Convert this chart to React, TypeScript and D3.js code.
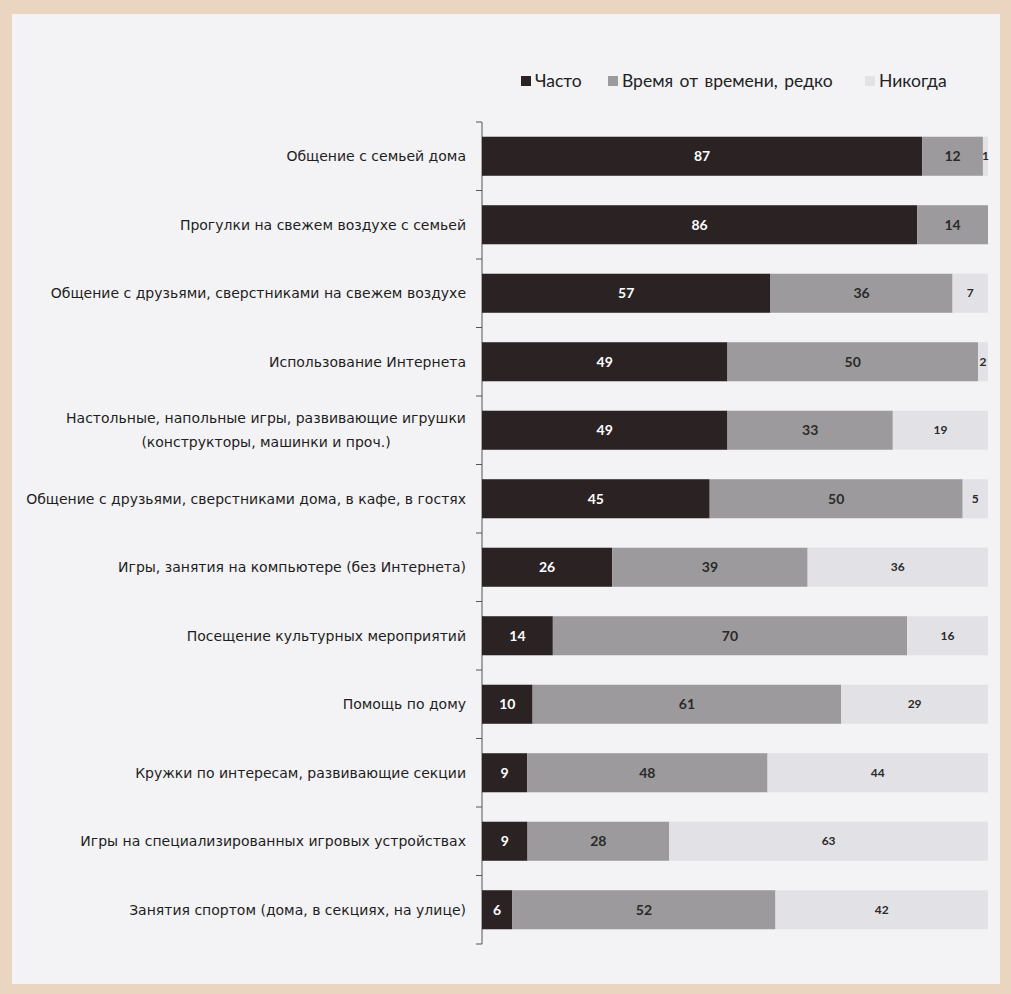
import React from "react";
import * as d3 from "d3";

const categories: string[][] = [
  ["Общение с семьей дома"],
  ["Прогулки на свежем воздухе с семьей"],
  ["Общение с друзьями, сверстниками  на свежем воздухе"],
  ["Использование Интернета"],
  ["Настольные, напольные игры, развивающие игрушки", "(конструкторы, машинки и проч.)"],
  ["Общение с друзьями, сверстниками дома, в кафе, в гостях"],
  ["Игры, занятия на компьютере (без Интернета)"],
  ["Посещение культурных мероприятий"],
  ["Помощь по дому"],
  ["Кружки по интересам,  развивающие секции"],
  ["Игры на специализированных игровых устройствах"],
  ["Занятия спортом (дома, в секциях, на улице)"],
];

const often = [87, 86, 57, 49, 49, 45, 26, 14, 10, 9, 9, 6];
const sometimes = [12, 14, 36, 50, 33, 50, 39, 70, 61, 48, 28, 52];
const never = [1, 0, 7, 2, 19, 5, 36, 16, 29, 44, 63, 42];

const seriesNames = ["Часто", "Время от времени, редко", "Никогда"];
const seriesColors = ["#2b2224", "#9c9a9c", "#e2e2e6"];
const labelColors = ["#ffffff", "#2a2a2a", "#2a2a2a"];

const W = 1011;
const H = 994;

export default function App() {
  const x0 = 482;
  const x1 = 988;
  const top = 122;
  const bottom = 944;

  const y = d3
    .scaleBand<number>()
    .domain(d3.range(categories.length))
    .range([top, bottom])
    .paddingInner(0.43)
    .paddingOuter(0.215);

  const x = d3.scaleLinear().domain([0, 1]).range([x0, x1]);

  const rows = categories.map((c, i) => {
    const vals = [often[i], sometimes[i], never[i]];
    const total = d3.sum(vals);
    let acc = 0;
    const segs = vals.map((v, k) => {
      const s = acc / total;
      acc += v;
      const e = acc / total;
      return { v, k, s, e };
    });
    return { c, i, segs };
  });

  const step = (bottom - top) / categories.length;

  return (
    <svg
      width={W}
      height={H}
      style={{ position: "absolute", left: 0, top: 0 }}
      viewBox={`0 0 ${W} ${H}`}
    >
      <rect x={0} y={0} width={W} height={H} fill="#ead5c0" />
      <rect x={12} y={14} width={988} height={970} fill="#f3f3f5" />

      {/* legend */}
      <g fontFamily="Lato, 'Open Sans', sans-serif" fontSize={17.5} fill="#222">
        {[
          { x: 521, t: 0 },
          { x: 608, t: 1 },
          { x: 865, t: 2 },
        ].map((l) => (
          <g key={l.t}>
            <rect x={l.x} y={76} width={10} height={10} fill={seriesColors[l.t]} />
            <text x={l.x + 14} y={87} wordSpacing={l.t === 1 ? 2 : 0}>
              {seriesNames[l.t]}
            </text>
          </g>
        ))}
      </g>

      {/* axis */}
      <line x1={x0} x2={x0} y1={top} y2={bottom} stroke="#555" strokeWidth={1} />
      {d3.range(categories.length + 1).map((k) => (
        <line
          key={k}
          x1={x0 - 6}
          x2={x0}
          y1={top + k * step}
          y2={top + k * step}
          stroke="#555"
          strokeWidth={1}
        />
      ))}

      {rows.map((r) => {
        const yb = y(r.i)!;
        const bh = y.bandwidth();
        const cy = yb + bh / 2;
        return (
          <g key={r.i}>
            {r.segs.map((s) =>
              s.v > 0 ? (
                <rect
                  key={s.k}
                  x={x(s.s)}
                  y={yb}
                  width={x(s.e) - x(s.s)}
                  height={bh}
                  fill={seriesColors[s.k]}
                />
              ) : null
            )}
            {r.segs.map((s) =>
              s.v > 0 ? (
                <text
                  key={"t" + s.k}
                  x={(x(s.s) + x(s.e)) / 2}
                  y={cy}
                  dy="0.35em"
                  textAnchor="middle"
                  fontFamily="Lato, 'Open Sans', sans-serif"
                  fontWeight={700}
                  fontSize={s.k === 2 ? 12 : 14}
                  fill={labelColors[s.k]}
                >
                  {s.v}
                </text>
              ) : null
            )}
            <text
              textAnchor={r.c.length > 1 ? "middle" : "end"}
              fontFamily="'DejaVu Sans', Verdana, sans-serif"
              fontSize={14}
              fill="#1e1e1e"
            >
              {r.c.map((line, li) => (
                <tspan
                  key={li}
                  x={r.c.length > 1 ? 266 : 466}
                  y={cy + (li - (r.c.length - 1) / 2) * 24}
                  dy="0.35em"
                >
                  {line}
                </tspan>
              ))}
            </text>
          </g>
        );
      })}
    </svg>
  );
}
